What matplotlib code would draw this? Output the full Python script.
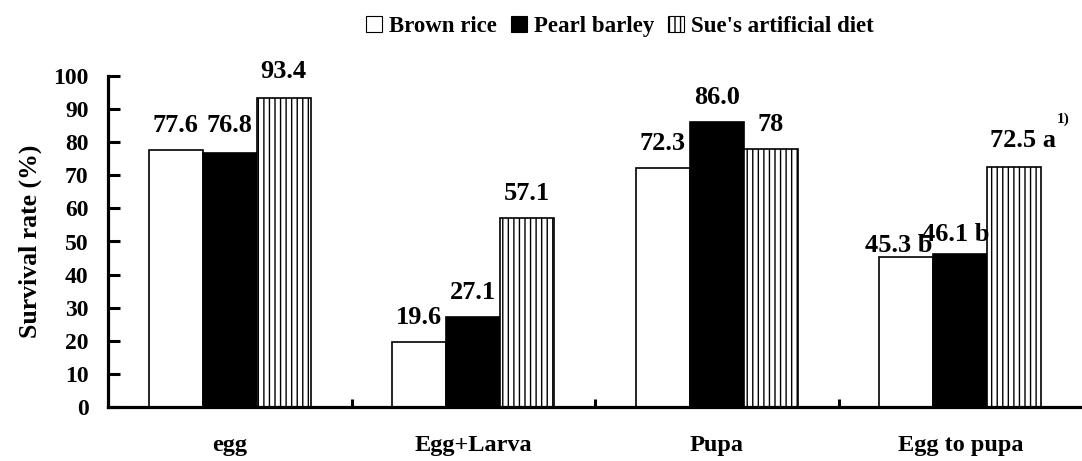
import matplotlib
matplotlib.use("Agg")
import matplotlib.pyplot as plt
from matplotlib.patches import Patch
import numpy as np

# data
stages = ["egg", "Egg+Larva", "Pupa", "Egg to pupa"]
diets = ["Brown rice", "Pearl barley", "Sue's artificial diet"]
brown_rice = [77.6, 19.6, 72.3, 45.3]
pearl_barley = [76.8, 27.1, 86.0, 46.1]
sue_diet = [93.4, 57.1, 78.0, 72.5]
labels_brown = ["77.6", "19.6", "72.3", "45.3 b"]
labels_pearl = ["76.8", "27.1", "86.0", "46.1 b"]
labels_sue = ["93.4", "57.1", "78", "72.5 a"]

# label offsets from bar top (points): (dx, dy)
off_brown = [(0, 13), (0, 13), (0, 13), (-5, 3.6)]
off_pearl = [(0, 15), (0, 13), (0, 13.5), (-3, 10)]
off_sue = [(0, 14), (0, 13), (0, 13), (6, 14.4)]

plt.rcParams["font.family"] = ["Liberation Serif", "DejaVu Serif"]
plt.rcParams["font.weight"] = "bold"
plt.rcParams["hatch.linewidth"] = 1.0

fig = plt.figure(figsize=(10.82, 4.61), dpi=100)
ax = fig.add_axes([108 / 1082, 1 - 407 / 461, 1 - 108 / 1082, (407 - 76) / 461])

x = np.arange(len(stages))
w = 0.222
styles = [
    dict(facecolor="white", edgecolor="black", hatch=None),
    dict(facecolor="black", edgecolor="black", hatch=None),
    dict(facecolor="white", edgecolor="black", hatch="|||"),
]
series = [brown_rice, pearl_barley, sue_diet]
texts = [labels_brown, labels_pearl, labels_sue]
offs = [off_brown, off_pearl, off_sue]

for i, (vals, st) in enumerate(zip(series, styles)):
    pos = x + (i - 1) * w
    ax.bar(pos, vals, width=w, linewidth=1.2, zorder=2, **st)
    for px, v, t, o in zip(pos, vals, texts[i], offs[i]):
        ax.annotate(t, (px, v), xytext=o, textcoords="offset points",
                    ha="center", va="baseline", fontsize=19, fontweight="bold")

# footnote marker
ax.annotate("1)", (x[3] + w, sue_diet[3]), xytext=(35, 32), textcoords="offset points",
            ha="center", va="baseline", fontsize=11, fontweight="bold")

ax.set_xlim(-0.5, 3.5)
ax.set_ylim(0, 100)
ax.set_yticks(range(0, 101, 10))
ax.set_xticks(x)
ax.set_xticklabels(stages, fontsize=17.5, fontweight="bold")
ax.set_xticks([0.5, 1.5, 2.5], minor=True)
ax.tick_params(axis="x", which="major", length=0, pad=20)
ax.tick_params(axis="x", which="minor", direction="in", length=6, width=2.2)
ax.tick_params(axis="y", direction="in", length=8.5, width=2.2, pad=14, labelsize=17)
for lab in ax.get_yticklabels():
    lab.set_fontweight("bold")

ax.spines["top"].set_visible(False)
ax.spines["right"].set_visible(False)
ax.spines["left"].set_linewidth(2.3)
ax.spines["bottom"].set_linewidth(2.3)
ax.set_ylabel("Survival rate (%)", fontsize=18.5, fontweight="bold", labelpad=8)

handles = [Patch(facecolor=st["facecolor"], edgecolor="black", hatch=st["hatch"], linewidth=0.8)
           for st in styles]
fig.legend(handles, diets, loc="upper center", bbox_to_anchor=(0.573, 1.01), ncol=3,
           frameon=False, handlelength=0.7, handleheight=0.7, handletextpad=0.3,
           columnspacing=0.6, prop={"size": 16.5, "weight": "bold"})

fig.savefig("out.png", dpi=100)
